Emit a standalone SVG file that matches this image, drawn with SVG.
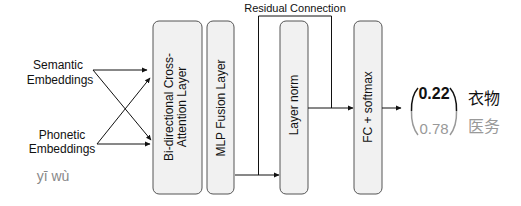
<svg xmlns="http://www.w3.org/2000/svg" width="521" height="206" viewBox="0 0 521 206">
<defs>
<marker id="ah" markerWidth="6" markerHeight="6" refX="5" refY="3" orient="auto" markerUnits="userSpaceOnUse">
<path d="M0,0.5 L5.5,3 L0,5.5 Z" fill="#111"/>
</marker>
</defs>
<style>
.box{fill:#f1f1f1;stroke:#555;stroke-width:1}
.t{font-family:"Liberation Sans",Arial,sans-serif;fill:#111}
.bt{font-size:12px;text-anchor:middle}
.ln{fill:none;stroke:#111;stroke-width:1}
.cjk{font-family:"Noto Sans CJK SC","Liberation Sans",sans-serif;font-size:16px}
</style>
<rect width="521" height="206" fill="#fff"/>
<g id="semantic">
<text class="t" font-size="12" text-anchor="middle" x="58" y="69">Semantic</text>
<text class="t" font-size="12" text-anchor="middle" x="60" y="84">Embeddings</text>
</g>
<g id="phonetic">
<text class="t" font-size="12" text-anchor="middle" x="62" y="139">Phonetic</text>
<text class="t" font-size="12" text-anchor="middle" x="62" y="153">Embeddings</text>
<text class="t" font-size="14" text-anchor="middle" x="53" y="181" style="fill:#888">yī wù</text>
</g>
<g id="cross-attention">
<rect class="box" x="153" y="21" width="49" height="173" rx="6"/>
<text class="t bt" transform="translate(173,107) rotate(-90)">Bi-directional Cross-</text>
<text class="t bt" transform="translate(186,107) rotate(-90)">Attention Layer</text>
</g>
<g id="mlp">
<rect class="box" x="207" y="21" width="27" height="173" rx="6"/>
<text class="t bt" transform="translate(225,108) rotate(-90)" font-size="13">MLP Fusion Layer</text>
</g>
<g id="layernorm">
<rect class="box" x="280" y="21" width="28" height="173" rx="6"/>
<text class="t bt" transform="translate(298,105) rotate(-90)" font-size="13">Layer norm</text>
</g>
<g id="fc">
<rect class="box" x="354" y="21" width="28" height="173" rx="6"/>
<text class="t bt" transform="translate(372,107) rotate(-90)" font-size="13">FC + softmax</text>
</g>
<g id="connectors">
<line class="ln" x1="93" y1="70" x2="147" y2="70" marker-end="url(#ah)"/>
<line class="ln" x1="93" y1="70" x2="151" y2="140" marker-end="url(#ah)"/>
<line class="ln" x1="97" y1="144" x2="150" y2="144" marker-end="url(#ah)"/>
<line class="ln" x1="97" y1="144" x2="150" y2="78" marker-end="url(#ah)"/>
<line class="ln" x1="235" y1="175" x2="279" y2="175" marker-end="url(#ah)"/>
<polyline class="ln" points="258.5,175 258.5,16 331.5,16 331.5,108"/>
<line class="ln" x1="308" y1="108" x2="353" y2="108" marker-end="url(#ah)"/>
<line class="ln" x1="382" y1="108" x2="401" y2="108" marker-end="url(#ah)"/>
<text class="t" font-size="11" text-anchor="middle" x="295" y="12">Residual Connection</text>
</g>
<g id="output">
<path d="M418,88 Q411,96 411.5,111" fill="none" stroke="#111" stroke-width="1.5"/>
<path d="M411.5,111 Q411,126 418,135" fill="none" stroke="#999" stroke-width="1.5"/>
<path d="M450,88 Q457,96 456.5,111" fill="none" stroke="#111" stroke-width="1.5"/>
<path d="M456.5,111 Q457,126 450,135" fill="none" stroke="#999" stroke-width="1.5"/>
<text class="t" font-size="16" font-weight="bold" text-anchor="middle" x="434" y="99">0.22</text>
<text class="t" font-size="15" text-anchor="middle" x="434" y="134" style="fill:#999">0.78</text>
<text class="cjk" x="468" y="104" fill="#111">衣物</text>
<text class="cjk" x="468" y="132" fill="#999">医务</text>
</g>
</svg>
